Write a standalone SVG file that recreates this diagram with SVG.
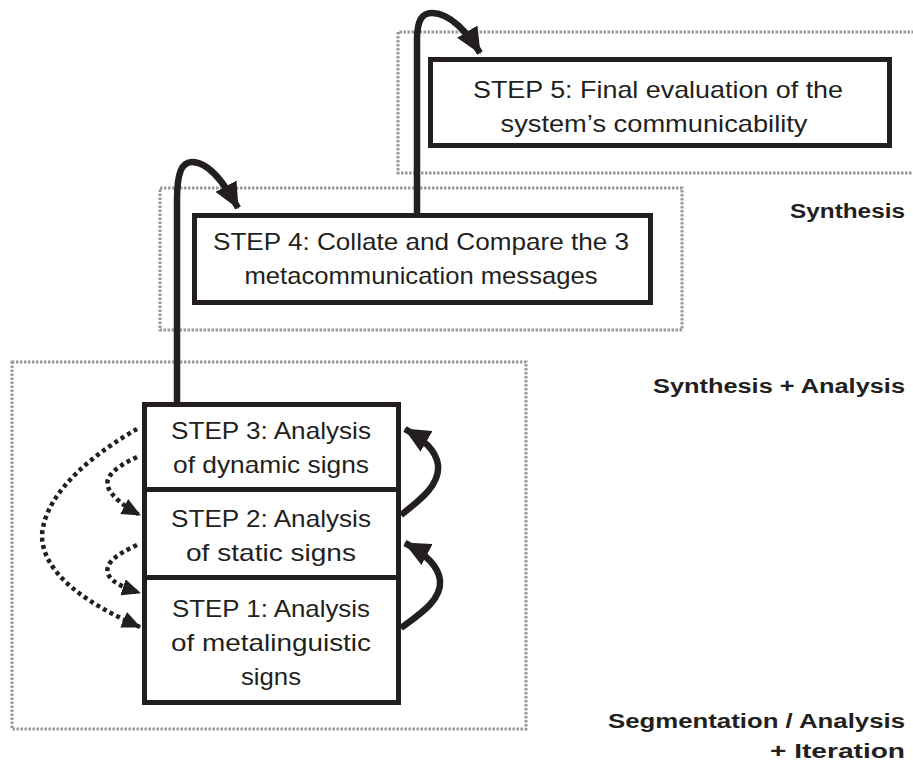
<svg xmlns="http://www.w3.org/2000/svg" width="913" height="767" viewBox="0 0 913 767">
<style>
.zone{fill:none;stroke:#9a9a9a;stroke-width:3;stroke-dasharray:2.5 1.5}
.box{fill:#fff;stroke:#231f20;stroke-width:5}
.t{font-family:"Liberation Sans","DejaVu Sans",sans-serif;font-size:24px;fill:#231f20;text-anchor:middle}
.lbl{font-family:"Liberation Sans","DejaVu Sans",sans-serif;font-size:20px;font-weight:bold;fill:#231f20;text-anchor:end}
.solid{fill:none;stroke:#231f20;stroke-width:6.5;stroke-linecap:butt}
.dot{fill:none;stroke:#231f20;stroke-width:4.5;stroke-dasharray:4 3.5}
</style>
<defs>
<marker id="ah" viewBox="0 0 24 22" refX="23" refY="11" markerWidth="26" markerHeight="24" markerUnits="userSpaceOnUse" orient="auto">
<path d="M0,0 L24,11 L0,22 z" fill="#231f20"/>
</marker>
<marker id="ahs" viewBox="0 0 18 16" refX="17" refY="8" markerWidth="19" markerHeight="17" markerUnits="userSpaceOnUse" orient="auto">
<path d="M0,0 L18,8 L0,16 z" fill="#231f20"/>
</marker>
</defs>
<g id="zones">
<path class="zone" d="M918 32 H398 V173 H918"/>
<rect class="zone" x="160" y="188" width="522" height="142"/>
<rect class="zone" x="12" y="362" width="514" height="367"/>
</g>
<g id="connectors">
<path class="solid" d="M177 404 L177 200 C177 172 182 162 192 162 C210 162 226 186 238 208" marker-end="url(#ah)"/>
<path class="solid" d="M417 216 L417 40 C417 20 422 13 432 13 C450 13 468 33 480 53" marker-end="url(#ah)"/>
<path class="solid" d="M401 515 C420 500 440 485 438 465 C436 450 424 440 405 429" marker-end="url(#ah)"/>
<path class="solid" d="M401 628 C420 614 442 600 440 580 C438 565 424 553 405 543" marker-end="url(#ah)"/>
<path class="dot" d="M137 429 C100 450 45 490 42 535 C42 575 90 605 140 627" marker-end="url(#ahs)"/>
<path class="dot" d="M137 457 C120 465 104 475 108 487 C112 497 125 507 140 515" marker-end="url(#ahs)"/>
<path class="dot" d="M137 545 C120 553 104 562 108 574 C112 583 125 588 140 593" marker-end="url(#ahs)"/>
</g>
<g id="step5">
<rect class="box" x="430.5" y="59.5" width="459" height="86"/>
<text class="t" x="658" y="98" textLength="370" lengthAdjust="spacingAndGlyphs">STEP 5: Final evaluation of the</text>
<text class="t" x="654" y="132" textLength="307" lengthAdjust="spacingAndGlyphs">system’s communicability</text>
</g>
<g id="step4">
<rect class="box" x="194.5" y="215.5" width="456" height="87"/>
<text class="t" x="421" y="250" textLength="416" lengthAdjust="spacingAndGlyphs">STEP 4: Collate and Compare the 3</text>
<text class="t" x="421" y="284" textLength="353" lengthAdjust="spacingAndGlyphs">metacommunication messages</text>
</g>
<g id="step3">
<rect class="box" x="144.5" y="404.5" width="254" height="87"/>
<text class="t" x="271" y="439" textLength="200" lengthAdjust="spacingAndGlyphs">STEP 3: Analysis</text>
<text class="t" x="271" y="473" textLength="196" lengthAdjust="spacingAndGlyphs">of dynamic signs</text>
</g>
<g id="step2">
<rect class="box" x="144.5" y="489.5" width="254" height="90"/>
<text class="t" x="271" y="527" textLength="200" lengthAdjust="spacingAndGlyphs">STEP 2: Analysis</text>
<text class="t" x="271" y="561" textLength="170" lengthAdjust="spacingAndGlyphs">of static signs</text>
</g>
<g id="step1">
<rect class="box" x="144.5" y="577.5" width="254" height="125"/>
<text class="t" x="271" y="617" textLength="198" lengthAdjust="spacingAndGlyphs">STEP 1: Analysis</text>
<text class="t" x="271" y="651" textLength="200" lengthAdjust="spacingAndGlyphs">of metalinguistic</text>
<text class="t" x="271" y="685" textLength="60" lengthAdjust="spacingAndGlyphs">signs</text>
</g>
<g id="labels">
<text class="lbl" x="905" y="218" textLength="115" lengthAdjust="spacingAndGlyphs">Synthesis</text>
<text class="lbl" x="905" y="393" textLength="252" lengthAdjust="spacingAndGlyphs">Synthesis + Analysis</text>
<text class="lbl" x="905" y="728" textLength="297" lengthAdjust="spacingAndGlyphs">Segmentation / Analysis</text>
<text class="lbl" x="905" y="758" textLength="135" lengthAdjust="spacingAndGlyphs">+ Iteration</text>
</g>
</svg>
